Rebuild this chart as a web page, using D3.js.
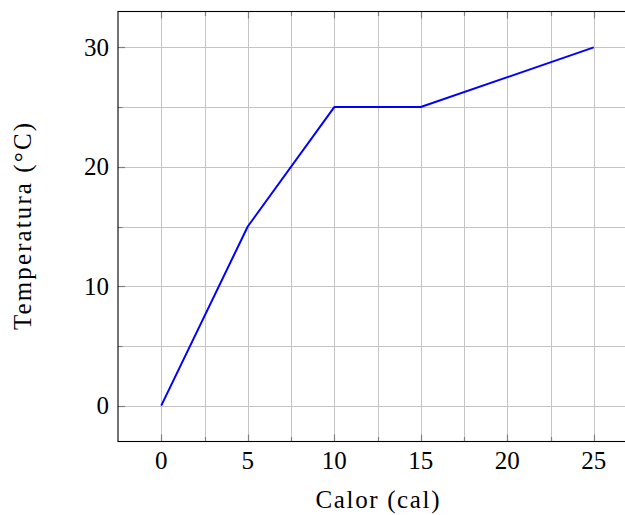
<!DOCTYPE html>
<html>
<head>
<meta charset="utf-8">
<script src="https://cdn.jsdelivr.net/npm/d3@7"></script>
<style>
  html, body { margin: 0; padding: 0; background: #fff; }
  svg { display: block; }
  text { font-family: "Liberation Serif", "Times New Roman", serif; fill: #000; }
</style>
</head>
<body>
<script>
// ---- data ----
const calor = [0, 5, 10, 15, 25];
const temperatura = [0, 15, 25, 25, 30];
const xTickValues = [0, 5, 10, 15, 20, 25];
const yTickValues = [0, 10, 20, 30];
const xMinorValues = [-2.5, 2.5, 7.5, 12.5, 17.5, 22.5, 27.5];
const yMinorValues = [-3, 5, 15, 25];
const xLabel = "Calor (cal)";
const yLabel = "Temperatura (°C)";

const W = 625, H = 515;
const svg = d3.select("body").append("svg").attr("width", W).attr("height", H);

const x = d3.scaleLinear().domain([-2.5, 27.5]).range([118, 637]);
const y = d3.scaleLinear().domain([-3, 33]).range([441.5, 11.5]);

const [x0, x1] = x.range();
const [y0, y1] = y.range();

const g = svg.append("g");

// grid (minor + major)
const gridColor = "#c4c4c4";
const allX = xTickValues.concat(xMinorValues.filter(v => v > -2.5 && v < 27.5));
const allY = yTickValues.concat(yMinorValues.filter(v => v > -3 && v < 33));
g.selectAll("line.gx").data(allX).enter().append("line")
  .attr("x1", d => Math.round(x(d)) + 0.5).attr("x2", d => Math.round(x(d)) + 0.5)
  .attr("y1", y0).attr("y2", y1)
  .attr("stroke", gridColor).attr("stroke-width", 1);
g.selectAll("line.gy").data(allY).enter().append("line")
  .attr("x1", x0).attr("x2", x1)
  .attr("y1", d => Math.round(y(d)) + 0.5).attr("y2", d => Math.round(y(d)) + 0.5)
  .attr("stroke", gridColor).attr("stroke-width", 1);

// ticks (inside, on all sides)
const tickColor = "#808080";
function xTicks(vals, len) {
  vals.forEach(v => {
    const px = Math.round(x(v)) + 0.5;
    g.append("line").attr("x1", px).attr("x2", px).attr("y1", y0).attr("y2", y0 - len)
      .attr("stroke", tickColor).attr("stroke-width", 1.2);
    g.append("line").attr("x1", px).attr("x2", px).attr("y1", y1).attr("y2", y1 + len)
      .attr("stroke", tickColor).attr("stroke-width", 1.2);
  });
}
function yTicks(vals, len) {
  vals.forEach(v => {
    const py = Math.round(y(v)) + 0.5;
    g.append("line").attr("x1", x0).attr("x2", x0 + len).attr("y1", py).attr("y2", py)
      .attr("stroke", tickColor).attr("stroke-width", 1.2);
    g.append("line").attr("x1", x1).attr("x2", x1 - len).attr("y1", py).attr("y2", py)
      .attr("stroke", tickColor).attr("stroke-width", 1.2);
  });
}
xTicks(xTickValues, 7);
xTicks(xMinorValues.filter(v => v > -2.5 && v < 27.5), 4.5);
yTicks(yTickValues, 7);
yTicks(yMinorValues.filter(v => v > -3 && v < 33), 4.5);

// data line
const line = d3.line().x((d, i) => x(calor[i])).y((d, i) => y(temperatura[i]));
g.append("path").datum(calor).attr("d", line)
  .attr("fill", "none").attr("stroke", "#0000ff").attr("stroke-width", 2)
  .attr("stroke-linejoin", "round");

// axis box
g.append("rect").attr("x", x0).attr("y", y1).attr("width", x1 - x0).attr("height", y0 - y1)
  .attr("fill", "none").attr("stroke", "#000").attr("stroke-width", 1.1);

// tick labels
const fs = 25;
svg.selectAll("text.xt").data(xTickValues).enter().append("text")
  .attr("x", d => x(d)).attr("y", 469)
  .attr("text-anchor", "middle").attr("font-size", fs).text(d => d);
svg.selectAll("text.yt").data(yTickValues).enter().append("text")
  .attr("x", 109).attr("y", d => y(d) + 8.5)
  .attr("text-anchor", "end").attr("font-size", fs).text(d => d);

// axis labels
svg.append("text").attr("x", (x0 + x1) / 2 - 0.5 * 0 - 0).attr("y", 508)
  .attr("text-anchor", "middle").attr("font-size", fs)
  .attr("textLength", 124).attr("lengthAdjust", "spacing")
  .text(xLabel);
svg.append("text")
  .attr("transform", `translate(31,${(y0 + y1) / 2}) rotate(-90)`)
  .attr("text-anchor", "middle").attr("font-size", fs)
  .attr("textLength", 207).attr("lengthAdjust", "spacing")
  .text(yLabel);
</script>
</body>
</html>
